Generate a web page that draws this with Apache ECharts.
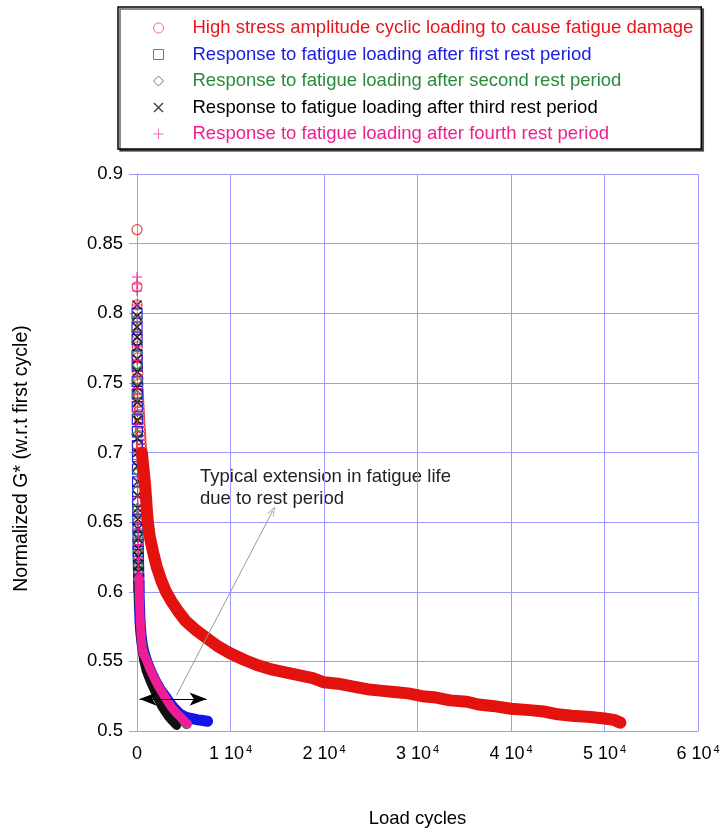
<!DOCTYPE html>
<html>
<head>
<meta charset="utf-8">
<script src="https://cdn.jsdelivr.net/npm/echarts@6/dist/echarts.min.js"></script>
<style>
html, body { margin: 0; padding: 0; background: #fff; }
#chart { width: 723px; height: 833px; }
</style>
</head>
<body>
<div id="chart"></div>
<script>
// Series labels (legend order)
const seriesNames = [
  'High stress amplitude cyclic loading to cause fatigue damage',
  'Response to fatigue loading after first rest period',
  'Response to fatigue loading after second rest period',
  'Response to fatigue loading after third rest period',
  'Response to fatigue loading after fourth rest period'
];

// Y axis ticks
const yMin = 0.5, yMax = 0.9, yStep = 0.05;
// X axis ticks (load cycles)
const xMin = 0, xMax = 60000, xStep = 10000;

// [load cycles, normalized G*] -- first cycles, drawn as separate markers
const redHead = [[0,0.86],[8,0.819],[14,0.806],[20,0.795],[28,0.785],[38,0.776],[50,0.768],[65,0.762],[82,0.757],[100,0.753],[120,0.749],[140,0.745],[160,0.742],[180,0.739],[200,0.736],[222,0.733],[245,0.730],[268,0.727],[292,0.724],[317,0.721],[343,0.718],[370,0.715],[398,0.712],[427,0.709],[457,0.706],[488,0.703],[520,0.700]];
const blueHead = [[3,0.80],[6,0.79],[9,0.781],[13,0.77],[17,0.762],[21,0.751],[25,0.742],[30,0.733],[35,0.724],[40,0.715],[45,0.705],[50,0.697],[56,0.688],[62,0.679],[69,0.672],[76,0.665],[84,0.658],[92,0.652],[101,0.646],[110,0.64],[120,0.634],[131,0.629],[143,0.624],[156,0.619],[170,0.614],[185,0.609],[200,0.604]];
const greenHead = [[2,0.796],[5,0.787],[8,0.779],[11,0.771],[14,0.763],[18,0.752],[22,0.741],[27,0.727],[33,0.713],[39,0.70],[46,0.687],[54,0.673],[63,0.66],[72,0.651],[81,0.643],[91,0.636],[102,0.63],[114,0.624],[127,0.619],[141,0.614],[156,0.609],[172,0.604]];
const blackHead = [[4,0.806],[7,0.798],[10,0.79],[13,0.783],[17,0.776],[21,0.767],[25,0.758],[30,0.747],[35,0.736],[41,0.723],[47,0.71],[53,0.70],[59,0.69],[66,0.679],[73,0.669],[81,0.66],[89,0.652],[98,0.645],[107,0.638],[117,0.631],[128,0.625],[140,0.619],[153,0.614],[166,0.609],[180,0.604]];
const magentaHead = [[2,0.826],[4,0.821],[6,0.816],[9,0.806],[12,0.797],[15,0.787],[18,0.776],[21,0.766],[24,0.755],[28,0.746],[32,0.738],[36,0.729],[41,0.72],[46,0.711],[51,0.703],[57,0.695],[63,0.688],[70,0.681],[77,0.675],[84,0.668],[92,0.662],[101,0.656],[110,0.65],[120,0.645],[131,0.639],[142,0.634],[154,0.629],[167,0.624],[181,0.619],[195,0.614],[210,0.61]];

// [load cycles, normalized G*] -- densely sampled remainder, drawn as a solid band
const redTail = [[520,0.700],[640,0.692],[760,0.684],[870,0.676],[970,0.667],[1060,0.658],[1160,0.650],[1350,0.640],[1700,0.629],[2100,0.618],[2600,0.608],[3100,0.60],[3700,0.593],[4400,0.586],[5200,0.579],[6200,0.573],[7400,0.567],[8600,0.561],[9900,0.556],[11500,0.551],[13000,0.547],[14500,0.544],[16000,0.542],[17400,0.540],[18800,0.538],[20000,0.535],[21500,0.534],[23000,0.532],[24600,0.530],[26000,0.529],[27500,0.528],[29000,0.527],[30500,0.525],[32000,0.524],[33500,0.522],[35300,0.521],[36500,0.519],[38000,0.518],[40000,0.516],[42000,0.515],[43500,0.514],[45000,0.512],[46500,0.511],[48500,0.510],[50000,0.509],[51000,0.508],[51700,0.506]];
const blueTail = [[200,0.604],[260,0.59],[330,0.578],[420,0.57],[560,0.562],[760,0.556],[1050,0.55],[1450,0.543],[1950,0.536],[2450,0.53],[3000,0.525],[3500,0.52],[4000,0.516],[4600,0.512],[5200,0.51],[5800,0.509],[6500,0.508],[7100,0.5075],[7550,0.507]];
const greenTail = [[172,0.604],[250,0.588],[340,0.576],[440,0.568],[560,0.561],[760,0.555],[1050,0.55],[1400,0.544],[1800,0.538],[2300,0.531],[2850,0.525],[3400,0.52],[3900,0.515],[4400,0.511],[4900,0.507],[5300,0.5045]];
const blackTail = [[180,0.604],[250,0.586],[350,0.572],[500,0.561],[700,0.551],[1000,0.543],[1400,0.536],[1800,0.53],[2200,0.524],[2620,0.518],[3000,0.514],[3400,0.51],[3800,0.507],[4230,0.504]];
const magentaTail = [[210,0.61],[240,0.602],[280,0.59],[330,0.58],[380,0.574],[450,0.567],[535,0.56],[700,0.555],[1020,0.551],[1350,0.545],[1770,0.539],[2300,0.532],[2840,0.526],[3300,0.521],[3690,0.517],[4200,0.513],[4660,0.51],[5050,0.507],[5400,0.505]];

const FONT = "'Liberation Sans', Arial, Helvetica, sans-serif";
const colors = ['#e3120f', '#1414e6', '#2a8a3c', '#111111', '#f01c96'];
const iconColors = ['#f07070', '#6a6ae8', '#3f9a55', '#444444', '#f26cb4'];
const textColors = ['#e8161c', '#1a1ae0', '#2a8a3c', '#000000', '#ee1f8e'];
const gridColor = '#9a9aff';

const X_PATH = 'path://M0,1L1,0L10,9L9,10Z M9,0L10,1L1,10L0,9Z';
const PLUS_PATH = 'path://M4.5,0H5.5V4.5H10V5.5H5.5V10H4.5V5.5H0V4.5H4.5Z';
const OPEN_ARROW = 'path://M5,0L10,10L9,10.6L5,2.2L1,10.6L0,10Z';

const heads = [redHead, blueHead, greenHead, blackHead, magentaHead];
const tails = [redTail, blueTail, greenTail, blackTail, magentaTail];
const headSymbols = ['circle', 'rect', 'diamond', X_PATH, PLUS_PATH];
const hollow = [true, true, true, false, false];
const bandWidths = [12, 11, 9, 9, 9];

function markerStyle(i, c, op, bw) {
  return hollow[i]
    ? { color: 'rgba(0,0,0,0)', borderColor: c, borderWidth: bw, opacity: op }
    : { color: c, borderWidth: 0, opacity: op };
}

const series = [];
// early-cycle markers
heads.forEach((d, i) => {
  series.push({
    name: seriesNames[i],
    type: 'scatter',
    data: d,
    symbol: headSymbols[i],
    symbolSize: 10,
    silent: true,
    itemStyle: markerStyle(i, colors[i], i === 0 ? 0.75 : 0.95, 1.2),
    emphasis: { disabled: true }
  });
});
// thick bands for the densely sampled cycles
tails.forEach((d, i) => {
  series.push({
    name: seriesNames[i],
    type: 'line',
    data: d,
    showSymbol: false,
    symbol: 'none',
    silent: true,
    itemStyle: { color: colors[i] },
    lineStyle: { color: colors[i], width: bandWidths[i], cap: 'round', join: 'round' },
    emphasis: { disabled: true }
  });
});

// annotation arrows
series.push({
  type: 'line',
  data: [],
  silent: true,
  markLine: {
    silent: true,
    animation: false,
    label: { show: false },
    emphasis: { disabled: true },
    data: [
      [
        { coord: [270, 0.5229], symbol: 'arrow', symbolSize: [10, 17], lineStyle: { color: '#000', width: 1, type: 'solid' } },
        { coord: [7440, 0.5229], symbol: 'arrow', symbolSize: [10, 17] }
      ],
      [
        { coord: [4230, 0.5257], symbol: 'none', lineStyle: { color: '#9a9a9a', width: 1, type: 'solid' } },
        { coord: [14510, 0.658], symbol: OPEN_ARROW, symbolSize: [7, 10] }
      ]
    ]
  }
});

const legendData = seriesNames.map((n, i) => ({
  name: n,
  icon: headSymbols[i],
  itemStyle: markerStyle(i, iconColors[i], 1, 1),
  textStyle: { color: textColors[i] }
}));

const axisLineStyle = { lineStyle: { color: gridColor, width: 1 } };

const option = {
  animation: false,
  backgroundColor: '#fff',
  textStyle: { fontFamily: FONT },
  legend: {
    data: legendData,
    orient: 'vertical',
    left: 118,
    top: 7,
    padding: [10.5, 8, 4.5, 35],
    itemGap: 5.5,
    itemWidth: 10,
    itemHeight: 10,
    selectedMode: false,
    backgroundColor: '#fff',
    borderColor: '#000',
    borderWidth: 1.5,
    borderRadius: 0,
    shadowColor: 'rgba(0,0,0,0.6)',
    shadowBlur: 0,
    shadowOffsetX: 2,
    shadowOffsetY: 2,
    textStyle: { fontFamily: FONT, fontSize: 18.5, lineHeight: 21, padding: [0, 0, 0, 24] }
  },
  grid: { left: 137, top: 174, width: 561, height: 560, containLabel: false },
  xAxis: [{
    type: 'value',
    min: xMin, max: xMax, interval: xStep,
    name: 'Load cycles',
    nameLocation: 'middle',
    nameGap: 78,
    nameTextStyle: { fontFamily: FONT, fontSize: 18.5, color: '#000' },
    axisLine: axisLineStyle,
    axisTick: { show: true, inside: true, length: 8, lineStyle: { color: gridColor } },
    splitLine: { show: true, lineStyle: { color: gridColor, width: 1 } },
    axisLabel: {
      margin: 13,
      color: '#000',
      fontFamily: FONT,
      formatter: v => v === 0 ? '{m|0}' : '{m|' + (v / 10000) + ' 10}{s|4}',
      rich: {
        m: { fontFamily: FONT, fontSize: 18, lineHeight: 20, color: '#000' },
        s: { fontFamily: FONT, fontSize: 11, lineHeight: 11, color: '#000', verticalAlign: 'top', padding: [0, 0, 10, 2] }
      }
    }
  }, {
    type: 'value', position: 'top',
    min: xMin, max: xMax, interval: xStep,
    axisLine: axisLineStyle,
    axisTick: { show: true, inside: true, length: 8, lineStyle: { color: gridColor } },
    axisLabel: { show: false },
    splitLine: { show: false }
  }],
  yAxis: [{
    type: 'value',
    min: yMin, max: yMax, interval: yStep,
    name: 'Normalized G* (w.r.t first cycle)',
    nameLocation: 'middle',
    nameGap: 105,
    nameTextStyle: { fontFamily: FONT, fontSize: 19.5, color: '#000', padding: [0, 12, 0, 0] },
    axisLine: { show: true, lineStyle: { color: gridColor, width: 1 } },
    axisTick: { show: true, inside: true, length: 8, lineStyle: { color: gridColor } },
    splitLine: { show: true, lineStyle: { color: gridColor, width: 1 } },
    axisLabel: { margin: 14, color: '#000', fontFamily: FONT, fontSize: 18.5 }
  }, {
    type: 'value', position: 'right',
    min: yMin, max: yMax, interval: yStep,
    axisLine: { show: true, lineStyle: { color: gridColor, width: 1 } },
    axisTick: { show: true, inside: true, length: 8, lineStyle: { color: gridColor } },
    axisLabel: { show: false },
    splitLine: { show: false }
  }],
  graphic: [{
    type: 'text',
    left: 200,
    top: 466,
    silent: true,
    style: {
      text: 'Typical extension in fatigue life\ndue to rest period',
      font: '18.5px ' + FONT,
      lineHeight: 22,
      fill: '#222'
    }
  }],
  series: series
};

const chart = echarts.init(document.getElementById('chart'), null, { renderer: 'canvas' });
chart.setOption(option);
</script>
</body>
</html>
